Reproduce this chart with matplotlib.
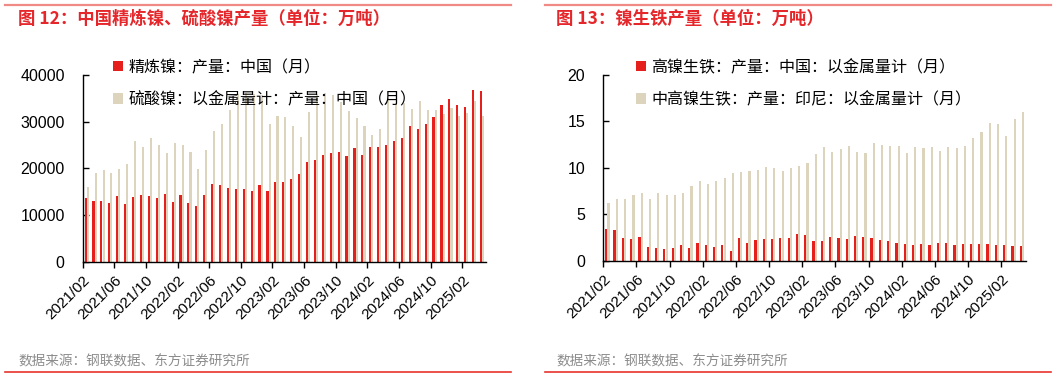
import matplotlib
matplotlib.use("Agg")
import matplotlib.pyplot as plt
from matplotlib.lines import Line2D
import numpy as np

plt.rcParams['font.family'] = ['Liberation Sans', 'Noto Sans CJK SC', 'DejaVu Sans']

# ---------------- data ----------------
months = []
for y in range(2021, 2026):
    for m in range(1, 13):
        if (y == 2021 and m < 2) or (y == 2025 and m > 4):
            continue
        months.append(f"{y}/{m:02d}")

refined_nickel = [13700, 13000, 13000, 12500, 14100, 12400, 13900, 14300, 14100, 13600,
                  14500, 12700, 14300, 12600, 12000, 14300, 16600, 16400, 15800, 15500,
                  15600, 15100, 16400, 15100, 17100, 17000, 17700, 18800, 21400, 21700,
                  22900, 23200, 23400, 22600, 24400, 22800, 24500, 24500, 25100, 25800,
                  26500, 29100, 28400, 29600, 30900, 33600, 34900, 33600, 33100, 36800,
                  36600]
nickel_sulfate = [15900, 18900, 19600, 19000, 19900, 20900, 25900, 24600, 26500, 25000,
                  23300, 25500, 24900, 23500, 19900, 23900, 28000, 29500, 32500, 36000,
                  36200, 36000, 35800, 29400, 31200, 31000, 29100, 26700, 32100, 36000,
                  36100, 35700, 34300, 32300, 30700, 29100, 27100, 28400, 35000, 34100,
                  33900, 32800, 34400, 32500, 32400, 31600, 33000, 31200, 31900, 34400,
                  31200]

npi_china = [3.41, 3.34, 2.41, 2.33, 2.59, 1.51, 1.33, 1.26, 1.33, 1.69,
             1.33, 1.94, 1.69, 1.47, 1.65, 1.04, 2.48, 1.90, 2.23, 2.33,
             2.30, 2.41, 2.41, 2.87, 2.76, 2.12, 2.12, 2.51, 2.41, 2.33,
             2.62, 2.55, 2.48, 2.26, 2.08, 1.90, 1.83, 1.65, 1.80, 1.65,
             1.87, 1.90, 1.72, 1.76, 1.83, 1.80, 1.76, 1.65, 1.65, 1.58,
             1.54]
npi_indonesia = [6.18, 6.64, 6.68, 7.04, 7.29, 6.68, 7.29, 7.07, 7.04, 7.32,
                 8.04, 8.58, 8.26, 8.58, 8.90, 9.48, 9.59, 9.66, 9.77, 10.05,
                 10.02, 9.66, 9.98, 10.23, 10.48, 11.45, 12.24, 11.67, 12.03, 12.35,
                 11.71, 11.60, 12.68, 12.46, 12.35, 12.35, 11.56, 12.21, 12.14, 12.24,
                 11.78, 12.24, 12.10, 12.35, 13.25, 13.86, 14.79, 14.76, 13.43, 15.26,
                 15.98]

legend_left = ["精炼镍：产量：中国（月）", "硫酸镍：以金属量计：产量：中国（月）"]
legend_right = ["高镍生铁：产量：中国：以金属量计（月）", "中高镍生铁：产量：印尼：以金属量计（月）"]
title_left = "图 12：中国精炼镍、硫酸镍产量（单位：万吨）"
title_right = "图 13：镍生铁产量（单位：万吨）"
source = "数据来源：钢联数据、东方证券研究所"

RED = '#E41F1C'
BEIGE = '#DDD4BE'
TITLE_RED = '#E5262A'
CJK = ['Noto Sans CJK SC', 'DejaVu Sans']

W, H = 1061, 379
fig = plt.figure(figsize=(W / 100, H / 100), dpi=100)

def fx(px):
    return px / W

def fy(py):
    return 1 - py / H

# frame lines, titles, sources
for x0, x1 in [(5, 511), (545, 1051)]:
    fig.add_artist(Line2D([fx(x0), fx(x1)], [fy(5), fy(5)], color='#F08A84', lw=1.6))
    fig.add_artist(Line2D([fx(x0), fx(x1)], [fy(372), fy(372)], color='#E8322C', lw=1.2))
for xt, t in [(18, title_left), (556, title_right)]:
    fig.text(fx(xt), fy(18.5), t, color=TITLE_RED, fontsize=12.5, fontweight='bold',
             va='center', ha='left', family=CJK)
for xt in [18, 556]:
    fig.text(fx(xt), fy(361), source, color='#8C8C8C', fontsize=9.8, va='center',
             ha='left', family=CJK)

def make_axes(rect, s1, s2, labels, ylim, yticks, legend_xy):
    ax = fig.add_axes(rect)
    n = len(months)
    x = np.arange(n) + 0.5
    b1 = ax.bar(x - 0.135, s1, width=0.27, color=RED, label=labels[0], zorder=2)
    b2 = ax.bar(x + 0.135, s2, width=0.26, color=BEIGE, label=labels[1], zorder=2)
    ax.set_xlim(0, n)
    ax.set_ylim(*ylim)
    ax.set_yticks(yticks)
    ax.set_yticklabels([str(v) for v in yticks], fontsize=11.5)
    tick_pos = list(range(0, n, 4))
    ax.set_xticks(tick_pos)
    ax.set_xticklabels([months[i] for i in tick_pos], rotation=45, ha='right',
                       va='top', rotation_mode='anchor', fontsize=11)
    for s in ['top', 'right']:
        ax.spines[s].set_visible(False)
    for s in ['left', 'bottom']:
        ax.spines[s].set_linewidth(1.0)
        ax.spines[s].set_color('black')
    ax.tick_params(axis='x', direction='out', length=4, width=1, colors='black', pad=4)
    ax.tick_params(axis='y', direction='in', length=4, width=1, colors='black', pad=13)
    ax.legend(handles=[b1, b2], loc='upper left', bbox_to_anchor=legend_xy,
              bbox_transform=fig.transFigure, frameon=False,
              handlelength=0.6, handleheight=0.6, handletextpad=0.35,
              labelspacing=0.95, borderpad=0, borderaxespad=0,
              prop={'family': CJK, 'size': 11.5})
    return ax

make_axes([fx(82.7), fy(261.7), fx(486) - fx(82.7), fy(75) - fy(261.7)],
          refined_nickel, nickel_sulfate, legend_left, (0, 40000),
          [0, 10000, 20000, 30000, 40000], (fx(113), fy(59)))
make_axes([fx(603.3), fy(260.7), fx(1026) - fx(603.3), fy(75) - fy(260.7)],
          npi_china, npi_indonesia, legend_right, (0, 20),
          [0, 5, 10, 15, 20], (fx(636), fy(59)))

fig.savefig('out.png', dpi=100)
